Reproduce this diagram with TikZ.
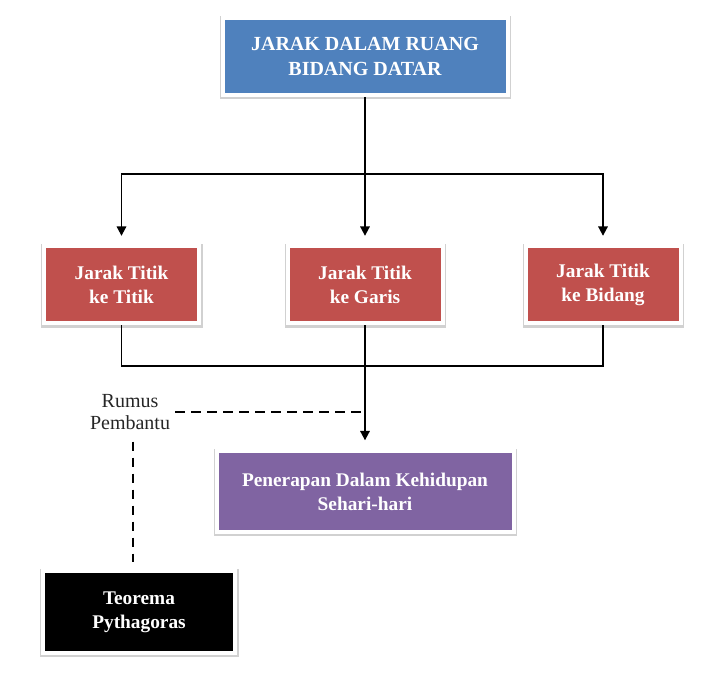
\documentclass[tikz,border=0pt]{standalone}
\usepackage{fontspec}
\setmainfont{Liberation Serif}
\usetikzlibrary{positioning,arrows.meta,calc,shadows}
\tikzset{
    every picture/.style={
        line width=1.4pt
    },
    % Style for the coloured topic boxes
    topic box/.style={
        draw=white,
        line width=3pt,
        text=white,
        font=\bfseries\fontsize{14.5}{18}\selectfont,
        align=center,
        inner sep=0pt,
        preaction={draw=black, line width=5pt, opacity=0.18,
                   transform canvas={xshift=0.4pt, yshift=-0.8pt}}
    },
    % Style for solid connectors
    link line/.style={
        -{Triangle[length=7pt,width=7pt]},
        line width=1.4pt,
        shorten >=6.5pt
    },
    % Style for dashed helper lines
    help line/.style={
        dash pattern=on 7pt off 5pt,
        line width=1.4pt
    }
}
\definecolor{mainBox}{RGB}{79,129,189}
\definecolor{partBox}{RGB}{192,80,77}
\definecolor{useBox}{RGB}{128,100,162}
\definecolor{helpBox}{RGB}{0,0,0}

\begin{document}
\begin{tikzpicture}[x=0.75pt,y=-0.75pt]

% Set the canvas size
\path[use as bounding box] (0,0) rectangle (708,688);

% Main topic
\node[topic box, fill=mainBox, minimum width=213.75pt, minimum height=57.75pt,
      font=\bfseries\fontsize{15}{19}\selectfont] (space) at (365,56.5) {JARAK DALAM RUANG\\BIDANG DATAR};

% Three kinds of distance
\node[topic box, fill=partBox, minimum width=116.25pt, minimum height=57.75pt] (pointPoint) at (121.5,285) {Jarak Titik\\ke Titik};
\node[topic box, fill=partBox, minimum width=116.25pt, minimum height=57.75pt] (pointLine) at (365,285) {Jarak Titik\\ke Garis};
\node[topic box, fill=partBox, minimum width=116.25pt, minimum height=57.75pt] (pointPlane) at (603,285) {Jarak Titik\\ke Bidang};

% Application and helper
\node[topic box, fill=useBox, minimum width=222.75pt, minimum height=60.75pt] (apply) at (365,491.5) {Penerapan Dalam Kehidupan\\Sehari-hari};
\node[topic box, fill=helpBox, minimum width=144pt, minimum height=61.5pt] (pyth) at (139,612) {Teorema\\Pythagoras};
\node[font=\fontsize{15}{16.5}\selectfont, align=center, text=black!85] (helper) at (130,412) {Rumus\\Pembantu};

% Branching connectors
\coordinate (fork) at (365,174);
\coordinate (join) at (365,366);
\draw (space.south) -- (fork);
\draw[link line] (fork) -| (pointPoint.north);
\draw[link line] (fork) -- (pointLine.north);
\draw[link line] (fork) -| (pointPlane.north);

% Merging connectors
\draw (pointPoint.south) |- (join);
\draw (pointPlane.south) |- (join);
\draw[link line] (pointLine.south) -- (apply.north);

% Dashed helper lines
\draw[help line] (helper.east) -- (helper.east -| join);
\draw[help line, shorten <=5pt, shorten >=5pt] ([xshift=2.25pt]helper.south) -- ([xshift=2.25pt]helper.south |- pyth.north);

\end{tikzpicture}
\end{document}
